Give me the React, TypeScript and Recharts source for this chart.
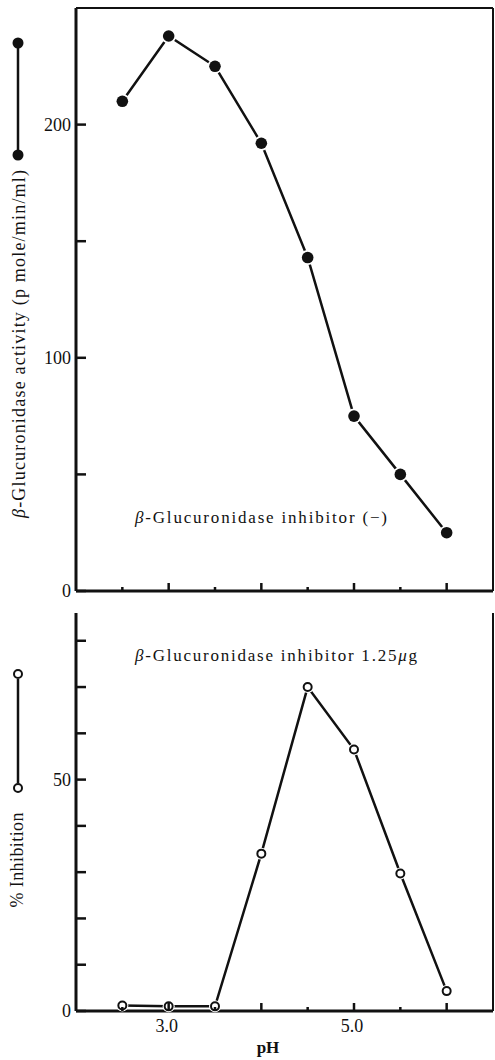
import React from 'react'
import { LineChart, Line, XAxis, YAxis, ReferenceLine } from 'recharts'

// pH of each measurement (both panels share them)
const phValues = [2.5, 3.0, 3.5, 4.0, 4.5, 5.0, 5.5, 6.0]
// beta-glucuronidase activity, p mole/min/ml (no inhibitor)
const activityValues = [210, 238, 225, 192, 143, 75, 50, 25]
// % inhibition with 1.25 ug inhibitor
const inhibitionValues = [1.2, 1, 1, 34, 70, 56.5, 29.7, 4.3]

const phTicks = [2.5, 3.0, 3.5, 4.0, 4.5, 5.0, 5.5, 6.0]
const phTickLabels = ['3.0', '5.0']
const activityTicks = [0, 50, 100, 150, 200]
const activityTickLabels = ['0', '100', '200']
const inhibitionTicks = [0, 10, 20, 30, 40, 50, 60, 70, 80]
const inhibitionTickLabels = ['0', '50']

const FONT = '"Liberation Serif", "DejaVu Serif", serif'
const INK = '#111'

// frame layout (page pixels)
const W = 495
const LEFT_W = 76 // left axis sits at x = 76
const RIGHT_W = 2 // right frame at x = 493
const TOP_H = 600
const TOP_AXIS_H = 9
const BOT_H = 460
const BOT_AXIS_H = 49

const topData = phValues.map((ph, i) => ({ ph, activity: activityValues[i] }))
const bottomData = phValues.map((ph, i) => ({ ph, inhibition: inhibitionValues[i] }))

function makeYTick(labels: string[], side: 'left' | 'right') {
  return (props: any) => {
    const { y, payload } = props
    const lbl = String(payload.value)
    const ax = side === 'left' ? LEFT_W : W - RIGHT_W
    const dir = side === 'left' ? 1 : -1
    return (
      <g>
        <line x1={ax} y1={y} x2={ax + dir * 10} y2={y} stroke={INK} strokeWidth={2.5} />
        {side === 'left' && labels.includes(lbl) && (
          <text x={ax - 5} y={y} dy="0.35em" textAnchor="end" fontSize={18} fontFamily={FONT} fill={INK}>
            {lbl}
          </text>
        )}
      </g>
    )
  }
}

function makeXTick(labels: string[], axisY: number) {
  return (props: any) => {
    const { x, payload } = props
    const v = Number(payload.value)
    const lbl = v.toFixed(1)
    const len = Number.isInteger(v) ? 8 : 4
    return (
      <g>
        <line x1={x} y1={axisY} x2={x} y2={axisY - len} stroke={INK} strokeWidth={2.5} />
        {labels.includes(lbl) && (
          <text x={x - 2} y={axisY + 21} textAnchor="middle" fontSize={18} fontFamily={FONT} fill={INK}>
            {lbl}
          </text>
        )}
      </g>
    )
  }
}

const FilledDot = (p: any) => (
  <g key={`f-${p.index}`}>
    <circle cx={p.cx} cy={p.cy} r={7.5} fill="#fff" />
    <circle cx={p.cx} cy={p.cy} r={5.8} fill={INK} />
  </g>
)

const OpenDot = (p: any) => (
  <g key={`o-${p.index}`}>
    <circle cx={p.cx} cy={p.cy} r={6} fill="#fff" />
    <circle cx={p.cx} cy={p.cy} r={4} fill="#fff" stroke={INK} strokeWidth={2} />
  </g>
)

const TopTitle = () => (
  <g>
    <text
      transform="translate(19,344) rotate(-90)"
      textAnchor="middle"
      dy="0.35em"
      fontSize={18}
      fontFamily={FONT}
      fill={INK}
      textLength={348}
      lengthAdjust="spacing"
    >
      <tspan fontStyle="italic">β</tspan>-Glucuronidase activity (p mole/min/ml)
    </text>
    <line x1={18} y1={48} x2={18} y2={150} stroke={INK} strokeWidth={2.5} />
    <circle cx={18} cy={43} r={5.5} fill={INK} />
    <circle cx={18} cy={155} r={5.5} fill={INK} />
  </g>
)

const TopNote = () => (
  <text x={135} y={523} fontSize={17} fontFamily={FONT} fill={INK} textLength={252} lengthAdjust="spacing">
    <tspan fontStyle="italic">β</tspan>-Glucuronidase inhibitor (−)
  </text>
)

const BottomTitle = () => (
  <g>
    <text
      transform="translate(17,260) rotate(-90)"
      textAnchor="middle"
      dy="0.35em"
      fontSize={18}
      fontFamily={FONT}
      fill={INK}
      textLength={95}
      lengthAdjust="spacing"
    >
      % Inhibition
    </text>
    <line x1={18} y1={79} x2={18} y2={183} stroke={INK} strokeWidth={2.5} />
    <circle cx={18} cy={74} r={4} fill="#fff" stroke={INK} strokeWidth={2} />
    <circle cx={18} cy={188} r={4} fill="#fff" stroke={INK} strokeWidth={2} />
  </g>
)

const BottomNote = () => (
  <text x={135} y={61} fontSize={17} fontFamily={FONT} fill={INK} textLength={282} lengthAdjust="spacing">
    <tspan fontStyle="italic">β</tspan>-Glucuronidase inhibitor 1.25<tspan fontStyle="italic">μ</tspan>g
  </text>
)

const PhLabel = () => (
  <text x={268} y={453} textAnchor="middle" fontSize={17} fontWeight={700} fontFamily={FONT} fill={INK}>
    pH
  </text>
)

export default function App() {
  return (
    <div style={{ position: 'absolute', left: 0, top: 0, width: W, height: 1060, background: '#fff' }}>
      <div style={{ position: 'absolute', left: 0, top: 0 }}>
        <LineChart width={W} height={TOP_H} data={topData} margin={{ top: 8, right: 0, bottom: 0, left: 0 }}>
          <XAxis
            dataKey="ph"
            type="number"
            domain={[2, 6.5]}
            ticks={phTicks}
            interval={0}
            height={TOP_AXIS_H}
            tickLine={false}
            axisLine={{ stroke: INK, strokeWidth: 3 }}
            tick={makeXTick([], TOP_H - TOP_AXIS_H)}
            label={TopNote}
          />
          <YAxis
            yAxisId="left"
            width={LEFT_W}
            domain={[0, 250]}
            ticks={activityTicks}
            interval={0}
            tickLine={false}
            axisLine={{ stroke: INK, strokeWidth: 3 }}
            tick={makeYTick(activityTickLabels, 'left')}
            label={TopTitle}
          />
          <YAxis
            yAxisId="right"
            orientation="right"
            width={RIGHT_W}
            domain={[0, 250]}
            ticks={activityTicks}
            interval={0}
            tickLine={false}
            axisLine={{ stroke: INK, strokeWidth: 2 }}
            tick={makeYTick([], 'right')}
          />
          <ReferenceLine yAxisId="left" y={250} stroke={INK} strokeWidth={2} />
          <Line
            yAxisId="left"
            dataKey="activity"
            type="linear"
            stroke={INK}
            strokeWidth={2.5}
            dot={FilledDot}
            activeDot={false}
            isAnimationActive={false}
          />
        </LineChart>
      </div>
      <div style={{ position: 'absolute', left: 0, top: TOP_H }}>
        <LineChart width={W} height={BOT_H} data={bottomData} margin={{ top: 13, right: 0, bottom: 0, left: 0 }}>
          <XAxis
            dataKey="ph"
            type="number"
            domain={[2, 6.5]}
            ticks={phTicks}
            interval={0}
            height={BOT_AXIS_H}
            tickLine={false}
            axisLine={{ stroke: INK, strokeWidth: 3 }}
            tick={makeXTick(phTickLabels, BOT_H - BOT_AXIS_H)}
            label={PhLabel}
          />
          <YAxis
            yAxisId="left"
            width={LEFT_W}
            domain={[0, 86]}
            ticks={inhibitionTicks}
            interval={0}
            tickLine={false}
            axisLine={{ stroke: INK, strokeWidth: 3 }}
            tick={makeYTick(inhibitionTickLabels, 'left')}
            label={BottomTitle}
          />
          <YAxis
            yAxisId="right"
            orientation="right"
            width={RIGHT_W}
            domain={[0, 86]}
            ticks={inhibitionTicks}
            interval={0}
            tickLine={false}
            axisLine={{ stroke: INK, strokeWidth: 2 }}
            tick={makeYTick([], 'right')}
            label={BottomNote}
          />
          <Line
            yAxisId="left"
            dataKey="inhibition"
            type="linear"
            stroke={INK}
            strokeWidth={2.5}
            dot={OpenDot}
            activeDot={false}
            isAnimationActive={false}
          />
        </LineChart>
      </div>
    </div>
  )
}
